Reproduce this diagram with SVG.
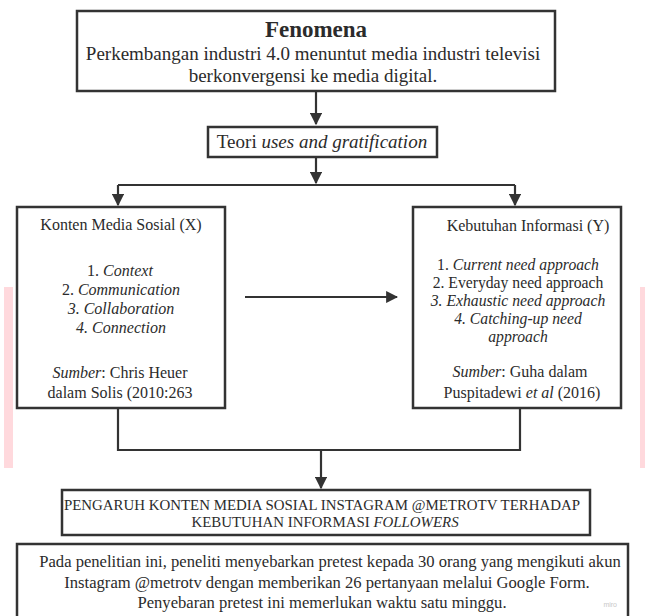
<svg xmlns="http://www.w3.org/2000/svg" width="645" height="616" viewBox="0 0 645 616">
<defs>
<style>
.box{fill:#fff;stroke:#333;stroke-width:2.5}
.ln{fill:none;stroke:#333;stroke-width:2.2}
.t{font-family:"Liberation Serif","Times New Roman",serif;fill:#2b2b2b;text-anchor:middle}
.i{font-style:italic}
</style>
<marker id="ah" viewBox="0 0 10 10" refX="9" refY="5" markerWidth="5.5" markerHeight="5.5" orient="auto" markerUnits="strokeWidth">
<path d="M0,0 L10,5 L0,10 Z" fill="#333"/>
</marker>
</defs>
<rect width="645" height="616" fill="#fff"/>
<rect x="4" y="287" width="9" height="181" fill="#ffd9dd"/>
<rect x="640" y="287" width="5" height="181" fill="#ffd9dd"/>

<g id="connectors">
<path class="ln" d="M316,91 V124" marker-end="url(#ah)"/>
<path class="ln" d="M316,157 V183" marker-end="url(#ah)"/>
<path class="ln" d="M118,185 H515"/>
<path class="ln" d="M118,185 V205" marker-end="url(#ah)"/>
<path class="ln" d="M515,185 V205" marker-end="url(#ah)"/>
<path class="ln" d="M245,297 H397" marker-end="url(#ah)"/>
<path class="ln" d="M118,408 V450 H520 V408"/>
<path class="ln" d="M321,450 V488" marker-end="url(#ah)"/>
</g>

<g id="fenomena">
<rect class="box" x="77" y="11" width="478" height="80"/>
<text class="t" x="316" y="37" font-size="23" font-weight="bold">Fenomena</text>
<text class="t" x="313" y="60" font-size="19">Perkembangan industri 4.0 menuntut media industri televisi</text>
<text class="t" x="313" y="82" font-size="19">berkonvergensi ke media digital.</text>
</g>

<g id="teori">
<rect class="box" x="208" y="127" width="229" height="30"/>
<text class="t" x="322" y="148" font-size="19">Teori <tspan class="i">uses and gratification</tspan></text>
</g>

<g id="konten">
<rect class="box" x="17" y="207" width="208" height="201"/>
<text class="t" x="121" y="230" font-size="16">Konten Media Sosial (X)</text>
<text class="t" x="120" y="276" font-size="16">1. <tspan class="i">Context</tspan></text>
<text class="t" x="121" y="295" font-size="16">2. <tspan class="i">Communication</tspan></text>
<text class="t" x="121" y="314" font-size="16"><tspan class="i">3. Collaboration</tspan></text>
<text class="t" x="121" y="333" font-size="16"><tspan class="i">4. Connection</tspan></text>
<text class="t" x="120" y="378" font-size="16"><tspan class="i">Sumber</tspan>: Chris Heuer</text>
<text class="t" x="120" y="398" font-size="16">dalam Solis (2010:263</text>
</g>

<g id="kebutuhan">
<rect class="box" x="413" y="207" width="208" height="201"/>
<text class="t" x="528" y="231" font-size="16">Kebutuhan Informasi (Y)</text>
<text class="t" x="518" y="270" font-size="15.7">1. <tspan class="i">Current need approach</tspan></text>
<text class="t" x="518" y="288" font-size="15.7">2. Everyday need approach</text>
<text class="t" x="518" y="306" font-size="15.7"><tspan class="i">3. Exhaustic need approach</tspan></text>
<text class="t" x="518" y="324" font-size="15.7"><tspan class="i">4. Catching-up need</tspan></text>
<text class="t" x="518" y="342" font-size="15.7"><tspan class="i">approach</tspan></text>
<text class="t" x="520" y="377" font-size="16"><tspan class="i">Sumber</tspan>: Guha dalam</text>
<text class="t" x="522" y="398" font-size="16">Puspitadewi <tspan class="i">et al</tspan>  (2016)</text>
</g>

<g id="pengaruh">
<rect class="box" x="62" y="490" width="528" height="45"/>
<text class="t" x="322" y="510" font-size="14.9">PENGARUH KONTEN MEDIA SOSIAL INSTAGRAM @METROTV TERHADAP</text>
<text class="t" x="325" y="527" font-size="14.9">KEBUTUHAN INFORMASI <tspan class="i">FOLLOWERS</tspan></text>
</g>

<g id="pretest">
<rect class="box" x="17" y="544" width="611" height="74"/>
<text class="t" x="330" y="567" font-size="16.6">Pada penelitian ini, peneliti menyebarkan pretest kepada 30 orang yang mengikuti akun</text>
<text class="t" x="327" y="588" font-size="16.6">Instagram @metrotv dengan memberikan 26 pertanyaan melalui Google Form.</text>
<text class="t" x="322" y="608" font-size="16.6">Penyebaran pretest ini memerlukan waktu satu minggu.</text>
<text x="617" y="607" font-family="Liberation Sans, Arial, sans-serif" font-size="7" fill="#c8c8c8" text-anchor="end">miro</text>
</g>
</svg>
